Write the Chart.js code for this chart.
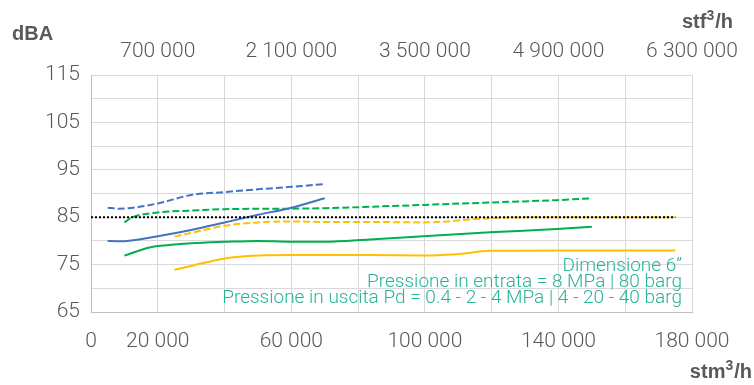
<!DOCTYPE html>
<html>
<head>
<meta charset="utf-8">
<script src="https://cdn.jsdelivr.net/npm/chart.js@4/dist/chart.umd.min.js"></script>
<style>
  html, body { margin: 0; padding: 0; background: #ffffff; }
  #wrap { position: relative; width: 754px; height: 385px; }
</style>
</head>
<body>
<div id="wrap"><canvas id="c" width="754" height="385"></canvas></div>
<script>
// Flow (stm3/h) and noise level (dBA) for each curve
const blueSolidFlow  = [5000, 8500, 20000, 30000, 40000, 50000, 60000, 70000];
const blueSolidDba   = [80.0, 79.9, 81.0, 82.3, 83.9, 85.5, 87.0, 89.0];

const blueDashFlow   = [5000, 8500, 20000, 30000, 40000, 50000, 60000, 70000];
const blueDashDba    = [87.0, 86.8, 87.9, 89.7, 90.3, 90.9, 91.4, 92.0];

const greenSolidFlow = [10000, 17500, 20000, 30000, 40000, 50000, 60000, 70000, 83500, 99500, 119500, 139500, 150000];
const greenSolidDba  = [76.9, 78.6, 78.9, 79.5, 79.8, 80.0, 79.8, 79.8, 80.3, 81.0, 81.8, 82.5, 83.0];

const greenDashFlow  = [10000, 12500, 20000, 30000, 40000, 60000, 70000, 83500, 99500, 119500, 139500, 150000];
const greenDashDba   = [83.9, 85.0, 86.0, 86.4, 86.7, 86.8, 86.9, 87.2, 87.6, 88.1, 88.6, 89.0];

const yellowSolidFlow = [25000, 30000, 40000, 50000, 60000, 70000, 83500, 99500, 109500, 119500, 139500, 159500, 175000];
const yellowSolidDba  = [73.9, 74.7, 76.3, 76.9, 77.0, 77.0, 77.0, 76.9, 77.2, 77.9, 78.0, 78.0, 78.0];

const yellowDashFlow = [25000, 30000, 40000, 50000, 60000, 70000, 83500, 99500, 119500, 139500, 175000];
const yellowDashDba  = [80.9, 81.7, 83.2, 83.9, 84.1, 84.0, 84.0, 83.9, 84.8, 85.0, 85.0];

const limitFlow = [0, 175000];
const limitDba  = [85, 85];

// Axis ticks that carry a label
const bottomTickLabels = [0, 20000, 60000, 100000, 140000, 180000];
const topTickLabels    = [700000, 2100000, 3500000, 4900000, 6300000];
const leftTickLabels   = [65, 75, 85, 95, 105, 115];

const noteLines = [
  'Dimensione 6\u201D',
  'Pressione in entrata = 8 MPa | 80 barg',
  'Pressione in uscita Pd = 0.4 - 2 - 4 MPa | 4 - 20 - 40 barg'
];

const FONT = "'Roboto', 'Liberation Sans', sans-serif";
const BOLD = "'Liberation Sans', Arial, sans-serif";
const GREY = '#595959';

function points(xs, ys) { return xs.map((x, i) => ({ x: x, y: ys[i] })); }
function spaced(v) { return String(v).replace(/\B(?=(\d{3})+(?!\d))/g, ' '); }

function line(label, xs, ys, color, dash) {
  return {
    label: label,
    data: points(xs, ys),
    borderColor: color,
    backgroundColor: color,
    borderWidth: 2,
    borderDash: dash || [],
    pointRadius: 0,
    fill: false,
    cubicInterpolationMode: 'monotone',
    xAxisID: 'x',
    yAxisID: 'y'
  };
}

// Unit label with a raised "3": base text, superscript, tail; right-aligned at xRight
function unitLabel(ctx, base, tail, xRight, baseline) {
  const big = 'bold 20px ' + BOLD;
  const small = 'bold 14px ' + BOLD;
  ctx.font = big;
  const wBase = ctx.measureText(base).width;
  const wTail = ctx.measureText(tail).width;
  ctx.font = small;
  const wSup = ctx.measureText('3').width;
  let x = xRight - (wBase + wSup + 1 + wTail);
  ctx.textAlign = 'left';
  ctx.textBaseline = 'alphabetic';
  ctx.font = big;
  ctx.fillText(base, x, baseline);
  x += wBase;
  ctx.font = small;
  ctx.fillText('3', x, baseline - 8);
  x += wSup + 1;
  ctx.font = big;
  ctx.fillText(tail, x, baseline);
}

const textPlugin = {
  id: 'texts',
  afterDraw(chart) {
    const ctx = chart.ctx;
    ctx.save();
    ctx.fillStyle = GREY;
    ctx.font = 'bold 20px ' + BOLD;
    ctx.textBaseline = 'alphabetic';
    ctx.textAlign = 'left';
    ctx.fillText('dBA', 12, 40);
    unitLabel(ctx, 'stf', '/h', 733, 28);
    unitLabel(ctx, 'stm', '/h', 752, 378);

    ctx.fillStyle = '#25B496';
    ctx.font = '300 19px ' + FONT;
    ctx.textAlign = 'right';
    ctx.textBaseline = 'middle';
    const ys = [266, 282, 298];
    noteLines.forEach((t, i) => ctx.fillText(t, 682, ys[i]));
    ctx.restore();
  }
};

new Chart(document.getElementById('c'), {
  type: 'line',
  data: {
    datasets: [
      line('limite', limitFlow, limitDba, '#000000', [2, 2]),
      line('blu continua', blueSolidFlow, blueSolidDba, '#4472C4'),
      line('blu tratteggiata', blueDashFlow, blueDashDba, '#4472C4', [7, 3]),
      line('verde continua', greenSolidFlow, greenSolidDba, '#00B050'),
      line('verde tratteggiata', greenDashFlow, greenDashDba, '#00B050', [7, 3]),
      line('gialla continua', yellowSolidFlow, yellowSolidDba, '#FFC000'),
      line('gialla tratteggiata', yellowDashFlow, yellowDashDba, '#FFC000', [7, 3])
    ]
  },
  options: {
    responsive: false,
    animation: false,
    devicePixelRatio: 1,
    layout: { padding: { left: 0, right: 62, top: 0, bottom: 0 } },
    plugins: { legend: { display: false }, tooltip: { enabled: false } },
    scales: {
      x: {
        type: 'linear',
        position: 'bottom',
        min: 0, max: 180000,
        afterFit: s => { s.height = 73; },
        border: { color: '#bfbfbf', width: 1 },
        grid: { color: '#d9d9d9', drawTicks: false },
        ticks: {
          stepSize: 20000, autoSkip: false, maxRotation: 0, padding: 17,
          color: GREY, font: { family: FONT, size: 21, weight: '300' },
          callback: v => bottomTickLabels.includes(v) ? spaced(v) : ''
        }
      },
      x2: {
        type: 'linear',
        position: 'top',
        min: 0, max: 6300000,
        afterFit: s => { s.height = 75; },
        border: { display: false },
        grid: { display: false, drawTicks: false },
        ticks: {
          stepSize: 700000, autoSkip: false, maxRotation: 0, padding: 11,
          color: GREY, font: { family: FONT, size: 21, weight: '300' },
          callback: v => topTickLabels.includes(v) ? spaced(v) : ''
        }
      },
      y: {
        type: 'linear',
        min: 65, max: 115,
        afterFit: s => { s.width = 91; },
        border: { color: '#bfbfbf', width: 1 },
        grid: { color: '#d9d9d9', drawTicks: false },
        ticks: {
          stepSize: 5, autoSkip: false, padding: 11,
          color: GREY, font: { family: FONT, size: 21, weight: '300' },
          callback: v => leftTickLabels.includes(v) ? String(v) : ''
        }
      }
    }
  },
  plugins: [textPlugin]
});
</script>
</body>
</html>
